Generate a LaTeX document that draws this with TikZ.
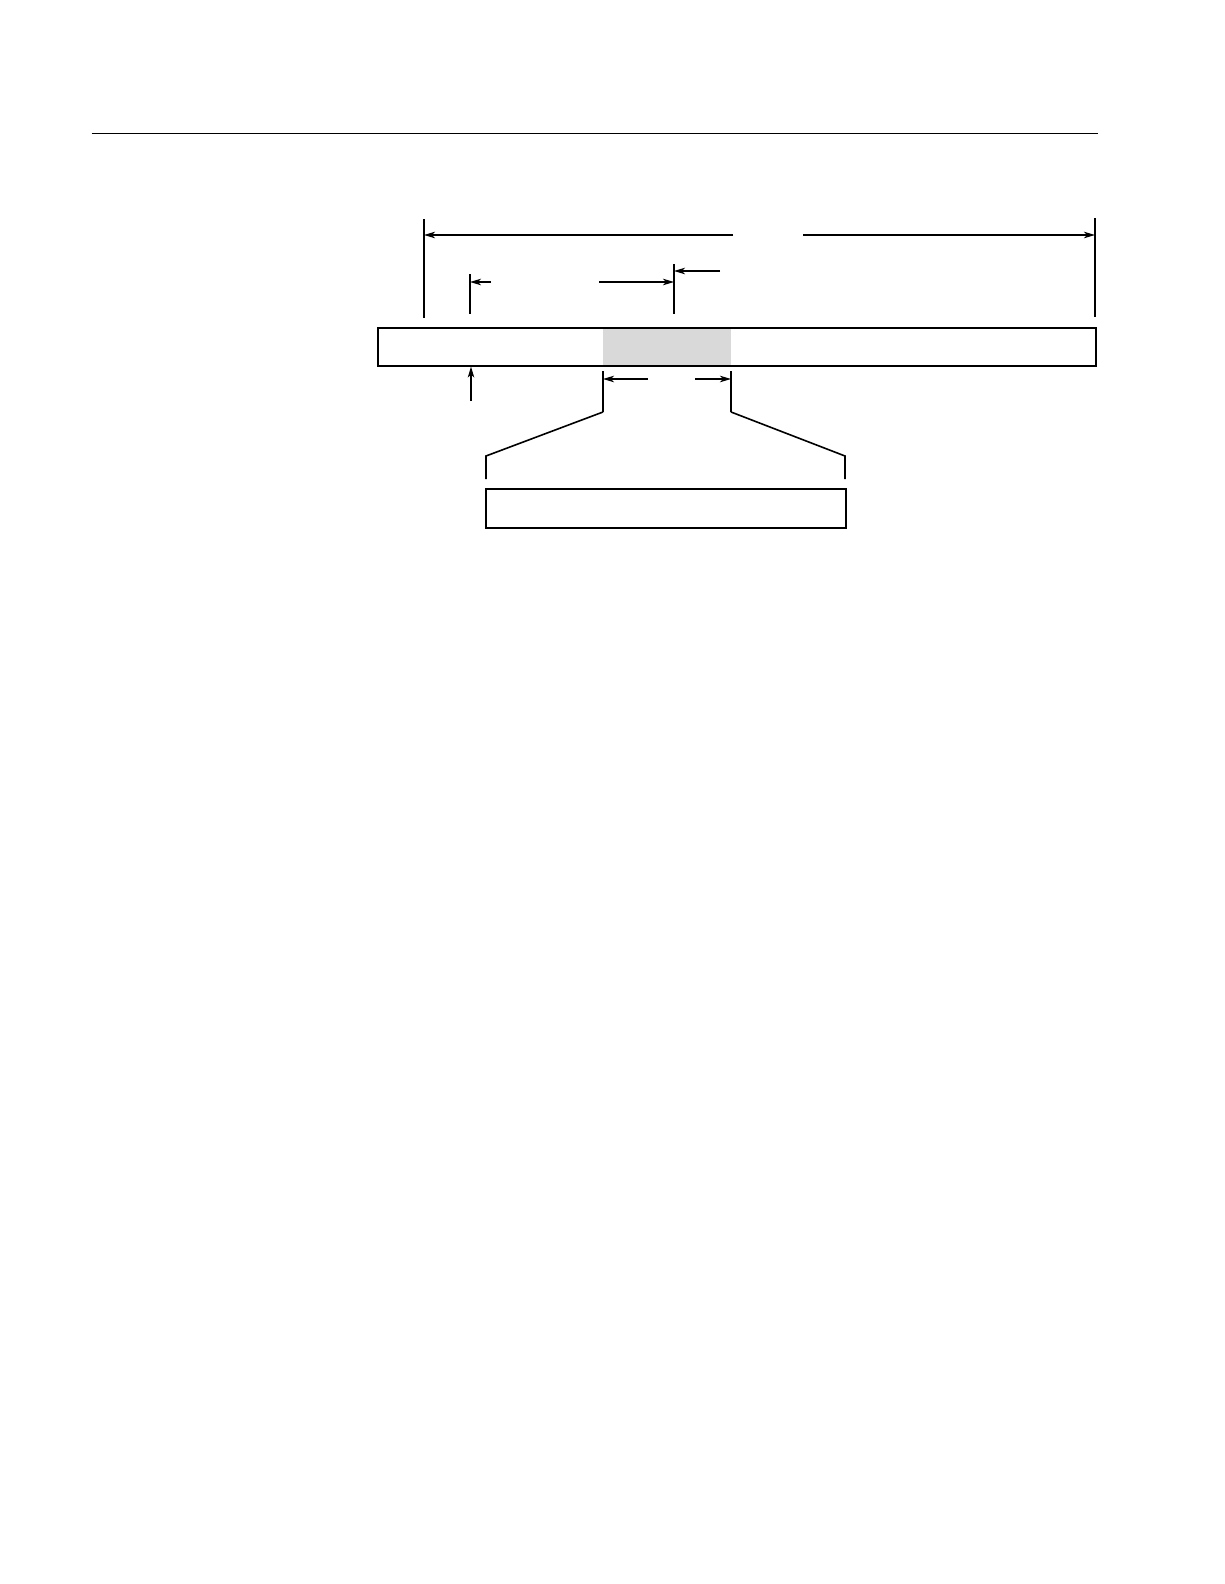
\documentclass[tikz,border=0pt]{standalone}
\usetikzlibrary{arrows.meta,positioning}

\begin{document}
\begin{tikzpicture}[x=1pt,y=-1pt,>={Stealth[length=11pt,width=6.5pt,inset=3pt]},
		dim/.style={line width=1.1pt},
		fan/.style={line width=1.6pt},
		strip/.style={draw,line width=1.6pt,inner sep=0pt,anchor=north west},
		field/.style={fill=black!15,inner sep=0pt,anchor=north west}]
		\useasboundingbox (0,0) rectangle (1224,1584);

		% header rule
		\coordinate (ruleL) at (91.5,133.5);
		\coordinate (ruleR) at (1097.5,133.5);
		\draw[line width=1.7pt] (ruleL) -- (ruleR);

		% record strip with shaded field
		\node[field,minimum width=128pt,minimum height=38pt] (fld) at (603,327) {};
		\node[strip,minimum width=718pt,minimum height=38pt] (rec) at (377,327) {};
		\node[strip,minimum width=360pt,minimum height=39pt] (det) at (485,488) {};

		% extension lines
		\coordinate (aT) at (424,219);  \coordinate (aB) at (424,318);
		\coordinate (bT) at (1095,218); \coordinate (bB) at (1095,317);
		\coordinate (cT) at (470,274);  \coordinate (cB) at (470,314);
		\coordinate (dT) at (674,264);  \coordinate (dB) at (674,314);
		\draw[dim] (aT) -- (aB) (bT) -- (bB) (cT) -- (cB) (dT) -- (dB);

		% overall length
		\draw[dim,->] (733,235) -- (424,235);
		\draw[dim,->] (803,235) -- (1095,235);

		% offset
		\draw[dim,->] (491,282) -- (cB |- 0,282);
		\draw[dim,->] (599,282) -- (dB |- 0,282);
		\draw[dim,->] (720,271) -- (dB |- 0,271);

		% start mark
		\coordinate (up) at (471,401);
		\draw[dim,->] (up) -- (up |- rec.south);

		% field width and fan-out
		\coordinate (fL) at (603,371); \coordinate (fR) at (731,371);
		\draw[dim,->] (648,379) -- (fL |- 0,379);
		\draw[dim,->] (695,379) -- (fR |- 0,379);
		\draw[dim] (fL) -- (603,412);
		\draw[dim] (fR) -- (731,412);
		\draw[fan] (603,412) -- (486,456) -- (486,479);
		\draw[fan] (731,412) -- (845,456) -- (845,479);
	\end{tikzpicture}
\end{document}
